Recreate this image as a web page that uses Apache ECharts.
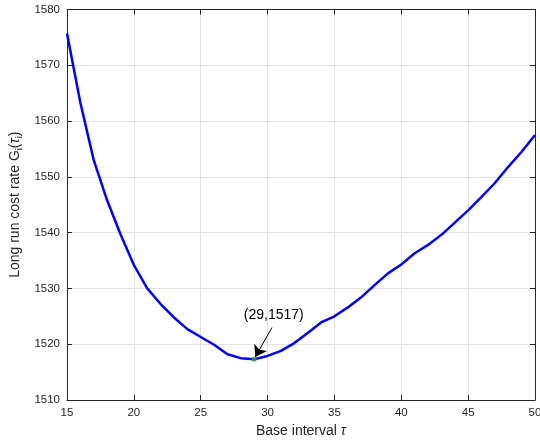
<!doctype html>
<html>
<head>
    <meta charset="utf-8">
    <title>Long run cost rate</title>
    <script src="https://cdn.jsdelivr.net/npm/echarts@6/dist/echarts.min.js"></script>
    <style>
        html, body { margin: 0; padding: 0; background: #fff; }
        #main { width: 540px; height: 444px; }
    </style>
</head>
<body>
    <div id="main"></div>
<script type="text/javascript">
    // 数据：基础间隔 tau 与长期成本率
    var tau = [15, 16, 17, 18, 19, 20, 21, 22, 23, 24, 25, 26, 27, 28, 29, 30, 31, 32,
               33, 34, 35, 36, 37, 38, 39, 40, 41, 42, 43, 44, 45, 46, 47, 48, 49, 50];
    var costRate = [1575.7, 1563.3, 1553.0, 1545.8, 1539.7, 1534.2, 1530.0, 1527.2, 1524.8,
                    1522.7, 1521.3, 1519.9, 1518.2, 1517.5, 1517.3, 1517.9, 1518.8, 1520.2,
                    1522.0, 1523.9, 1525.0, 1526.6, 1528.4, 1530.6, 1532.7, 1534.3, 1536.3,
                    1537.8, 1539.6, 1541.8, 1544.0, 1546.4, 1548.9, 1551.8, 1554.5, 1557.5];
    var optPoint = [29, 1517.3];
    var optLabel = '(29,1517)';
    var arrowFrom = [30.33, 1523.0];
    var arrowTo = [29.08, 1517.7];
    var labelAt = [30.46, 1525.3];

    var lineData = [];
    for (var i = 0; i < tau.length; i++) {
        lineData.push([tau[i], costRate[i]]);
    }

    var myChart = echarts.init(document.getElementById('main'));
    var axisColor = '#262626';
    var font = 'Liberation Sans, Arial, sans-serif';

    var option = {
        animation: false,
        grid: { left: 67, right: 5, top: 9.5, bottom: 44, outerBoundsMode: 'none' },
        xAxis: [{
            type: 'value', min: 15, max: 50, interval: 5,
            name: '{n|Base interval }{t|τ}',
            nameLocation: 'middle', nameGap: 24,
            nameTextStyle: {
                rich: {
                    n: { fontSize: 14, color: axisColor, fontFamily: font },
                    t: { fontSize: 14, color: axisColor, fontFamily: font, fontStyle: 'italic' }
                }
            },
            axisLine: { lineStyle: { color: axisColor, width: 1 } },
            axisTick: { inside: true, length: 5, lineStyle: { color: axisColor } },
            axisLabel: { color: axisColor, fontSize: 11.5, fontFamily: font, margin: 7 },
            splitLine: { show: true, lineStyle: { color: '#e3e3e3', width: 1 } }
        }, {
            type: 'value', min: 15, max: 50, interval: 5, position: 'top',
            axisLine: { show: true, lineStyle: { color: axisColor, width: 1 } },
            axisTick: { show: true, inside: true, length: 5, lineStyle: { color: axisColor } },
            axisLabel: { show: false },
            splitLine: { show: false }
        }],
        yAxis: [{
            type: 'value', min: 1510, max: 1580, interval: 10,
            name: '{n|Long run cost rate G}{s|i}{n|(}{t|τ}{s|i}{n|)}',
            nameLocation: 'middle', nameGap: 40,
            nameTextStyle: {
                rich: {
                    n: { fontSize: 14, color: axisColor, fontFamily: font, lineHeight: 17 },
                    t: { fontSize: 14, color: axisColor, fontFamily: font, fontStyle: 'italic', lineHeight: 17 },
                    s: { fontSize: 9, color: axisColor, fontFamily: font, lineHeight: 17, verticalAlign: 'bottom', padding: [6, 0, 0, 0] }
                }
            },
            axisLine: { show: true, lineStyle: { color: axisColor, width: 1 } },
            axisTick: { show: true, inside: true, length: 5, lineStyle: { color: axisColor } },
            axisLabel: {
                color: axisColor, fontSize: 11.5, fontFamily: font, margin: 7,
                formatter: function (v) { return String(v); }
            },
            splitLine: { show: true, lineStyle: { color: '#e3e3e3', width: 1 } }
        }, {
            type: 'value', min: 1510, max: 1580, interval: 10, position: 'right',
            axisLine: { show: true, lineStyle: { color: axisColor, width: 1 } },
            axisTick: { show: true, inside: true, length: 5, lineStyle: { color: axisColor } },
            axisLabel: { show: false },
            splitLine: { show: false }
        }],
        series: [{
            name: 'cost',
            type: 'line',
            data: lineData,
            showSymbol: false,
            lineStyle: { color: '#0000ff', width: 2.5 },
            z: 3
        }, {
            name: 'opt',
            type: 'scatter',
            data: [optPoint],
            symbol: 'circle',
            symbolSize: 5,
            itemStyle: { color: '#22aa22' },
            z: 5,
            markLine: {
                silent: true,
                symbol: ['none', 'arrow'],
                symbolSize: 11,
                label: { show: false },
                lineStyle: { color: '#000', width: 1, type: 'solid' },
                data: [[{ coord: arrowFrom }, { coord: arrowTo }]]
            },
            markPoint: {
                silent: true,
                symbol: 'circle',
                symbolSize: 0,
                label: {
                    show: true, position: 'inside', formatter: optLabel,
                    color: '#000', fontSize: 14, fontFamily: font
                },
                data: [{ coord: labelAt }]
            }
        }]
    };

    myChart.setOption(option);
</script>
</body>
</html>
